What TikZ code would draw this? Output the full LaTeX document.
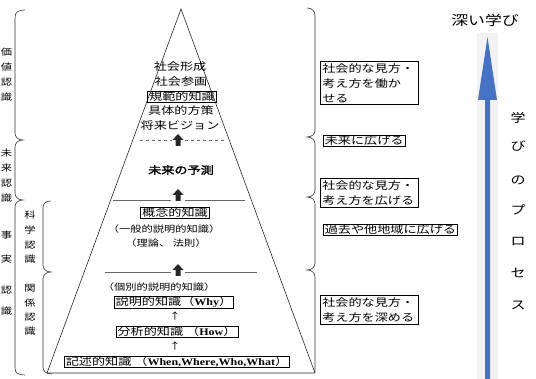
\documentclass[tikz,border=0pt]{standalone}
\usepackage{fontspec}
\setmainfont{Noto Sans CJK JP}
\newfontfamily\jp[FakeStretch=1.25]{Noto Sans CJK JP}
\newfontfamily\jpb[FakeStretch=1.25,FakeBold=2]{Noto Sans CJK JP}
\newfontfamily\lat[FakeStretch=1.2]{Liberation Serif}
\definecolor{deepblue}{RGB}{68,114,196}
\begin{document}
\begin{tikzpicture}[x=1pt,y=-1pt,
  line width=0.6pt,
  tx/.style={inner sep=0pt, font=\jp\fontsize{10.5}{14}\selectfont},
  sm/.style={inner sep=0pt, font=\jp\fontsize{9}{10}\selectfont},
  bx/.style={draw, inner xsep=1.5pt, inner ysep=0.5pt, font=\jp\fontsize{10.5}{14}\selectfont},
  rbox/.style={draw, anchor=north west, align=left, text width=94pt, inner sep=2pt, font=\jp\fontsize{10.5}{15}\selectfont},
  sbox/.style={draw, anchor=west, inner xsep=1.5pt, inner ysep=0.5pt, font=\jp\fontsize{10.5}{14}\selectfont},
  side/.style={inner sep=0pt, font=\jp\fontsize{9}{11}\selectfont},
  brace/.style={line width=0.6pt, draw=black!80},
  sepline/.style={draw=black!60, line width=0.7pt},
  uparrow/.pic={\fill[black!85] (-2.5,12) -- (-2.5,6) -- (-5.5,6) -- (0,0) -- (5.5,6) -- (2.5,6) -- (2.5,12) -- cycle;}
]
\useasboundingbox (0,0) rectangle (536,379);

% pyramid
\coordinate (apex) at (181,9);
\coordinate (bl) at (47,373);
\coordinate (br) at (315,373);
\draw[black!85] (bl) -- (apex) -- (br) -- cycle;

% separators
\draw[sepline, dash pattern=on 3pt off 3pt] (140,140) -- (172,140);
\draw[sepline, dash pattern=on 3pt off 3pt] (185,140) -- (225,140);
\draw[sepline] (113,200) -- (171,200);
\draw[sepline] (185,200) -- (245,200);
\draw[sepline] (105,272) -- (171,272);
\draw[sepline] (185,272) -- (257,272);
\pic at (178,134) {uparrow};
\pic at (178,189) {uparrow};
\pic at (178,264) {uparrow};

% pyramid texts
\node[tx] (t1) at (180,67) {社会形成};
\node[tx] (t2) at (181,82) {社会参画};
\node[bx] (t3) at (182,97) {規範的知識};
\node[tx] (t4) at (181,111) {具体的方策};
\node[tx] (t5) at (180,126) {将来ビジョン};
\node[inner sep=0pt, font=\jpb\fontsize{10.5}{14}\selectfont] (t6) at (181,170) {未来の予測};
\node[bx] (t7) at (175,213) {概念的知識};
\node[sm] (t8) at (164,229) {（一般的説明的知識）};
\node[sm] (t9) at (166,243) {（理論、 法則）};
\node[sm] (t10) at (159,287) {（個別的説明的知識）};
\node[bx] (t11) at (174,302) {説明的知識（{\lat\bfseries\fontsize{10}{12}\selectfont Why}）};
\node[sm] (a1) at (175,316) {↑};
\node[bx] (t12) at (177,332) {分析的知識 （{\lat\bfseries\fontsize{10}{12}\selectfont How}）};
\node[sm] (a2) at (175,346) {↑};
\node[bx] (t13) at (177,362) {記述的知識 （{\lat\bfseries\fontsize{10}{12}\selectfont When,Where,Who,What}）};

% left outer brace
\draw[brace] (25,10) .. controls (18,10) and (15,12) .. (15,18) -- (15,133)
  .. controls (15,137) and (18,140) .. (23,140) .. controls (18,140) and (15,143) .. (15,147)
  -- (15,193) .. controls (15,197) and (18,200) .. (23,200) .. controls (18,200) and (15,203) .. (15,207)
  -- (15,368) .. controls (15,373) and (18,375) .. (25,375);
% left inner brace
\draw[brace] (51,201) .. controls (46,201) and (43,203) .. (43,208) -- (43,265)
  .. controls (43,269) and (46,272) .. (51,272) .. controls (46,272) and (43,275) .. (43,279)
  -- (43,367) .. controls (43,371) and (46,374) .. (52,374);
% right brace
\draw[brace] (307,8) .. controls (312,8) and (315,11) .. (315,16) -- (315,130)
  .. controls (315,134) and (312,137) .. (307,137) .. controls (312,137) and (315,140) .. (315,144)
  -- (315,190) .. controls (315,194) and (312,197) .. (307,197) .. controls (312,197) and (315,200) .. (315,204)
  -- (315,263) .. controls (315,267) and (312,270) .. (307,270) .. controls (312,270) and (315,273) .. (315,277)
  -- (315,372);

% left labels
\foreach \c/\y [count=\i] in {価/52,値/67,認/82,識/97} \node[side] (v\i) at (6.5,\y) {\c};
\foreach \c/\y [count=\i] in {未/153,来/168,認/183,識/198} \node[side] (f\i) at (6.5,\y) {\c};
\foreach \c/\y [count=\i] in {事/235,実/259,認/290,識/311} \node[side] (j\i) at (6.5,\y) {\c};
\foreach \c/\y [count=\i] in {科/215,学/230,認/245,識/259} \node[side] (k\i) at (30,\y) {\c};
\foreach \c/\y [count=\i] in {関/288,係/303,認/317,識/331} \node[side] (g\i) at (30,\y) {\c};

% right boxes
\node[rbox] (r1) at (320,61) {社会的な見方・\\考え方を働か\\せる};
\node[sbox] (r2) at (323,141) {未来に広げる};
\node[rbox] (r3) at (320,178) {社会的な見方・\\考え方を広げる};
\node[sbox] (r4) at (323,230) {過去や他地域に広げる};
\node[rbox] (r5) at (320,295) {社会的な見方・\\考え方を深める};

% deep learning arrow
\fill[black!5] (477,33) rectangle (498,379);
\fill[deepblue]
  (485,379) -- (485,100) -- (478,100) -- (487.5,37) -- (497,100) -- (490,100) -- (490,379) -- cycle;
\node[inner sep=0pt, font=\jp\fontsize{13.5}{16}\selectfont] (deep) at (485,20) {深い学び};
\foreach \c/\y [count=\i] in {学/118,び/146,の/180,プ/210,ロ/241,セ/273,ス/305}
  \node[inner sep=0pt, font=\jp\fontsize{12}{14}\selectfont] (p\i) at (518,\y) {\c};
\end{tikzpicture}
\end{document}
